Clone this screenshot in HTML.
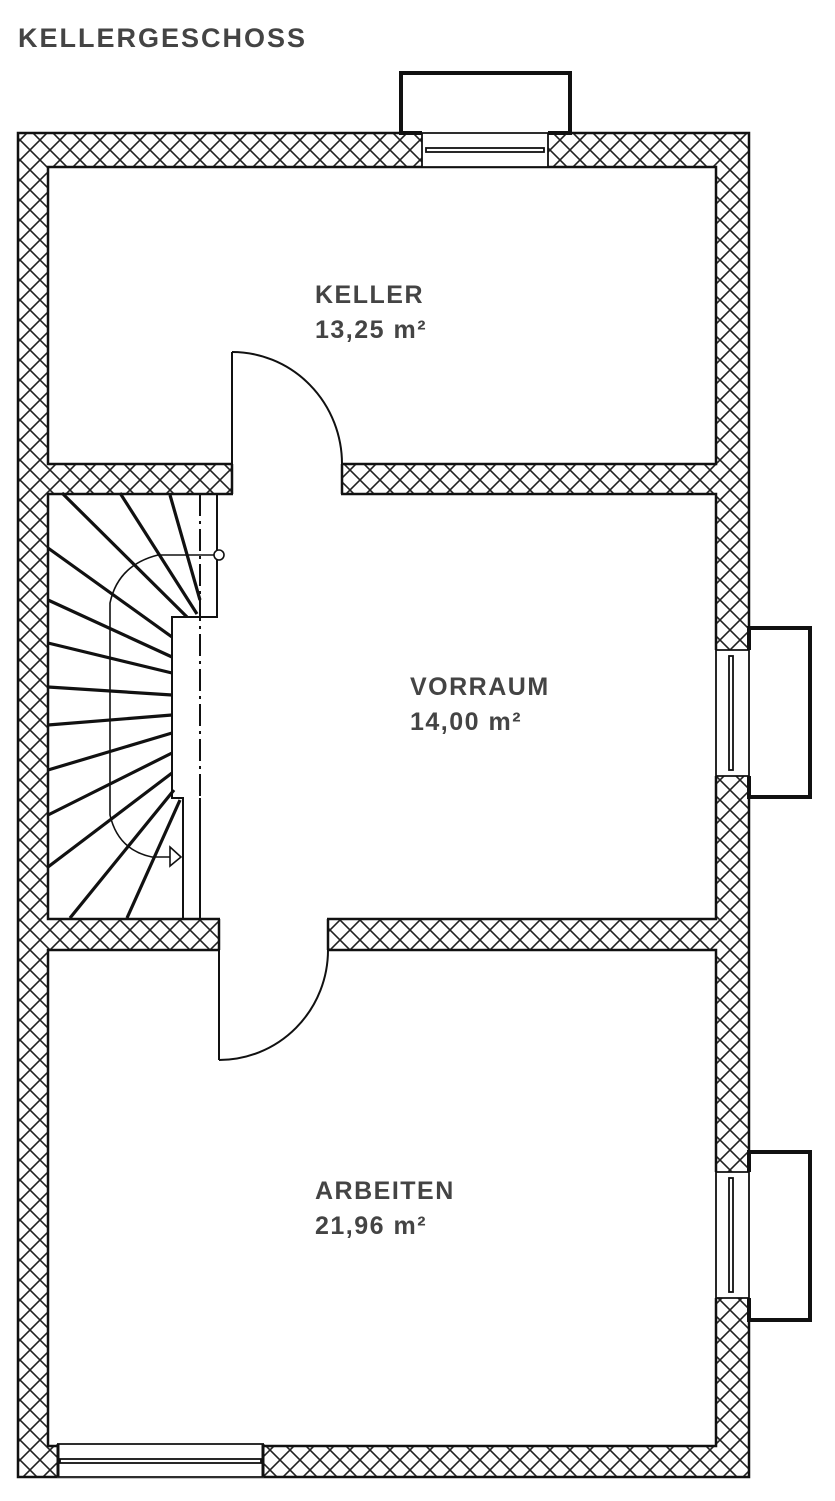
<!DOCTYPE html>
<html><head><meta charset="utf-8"><style>
html,body{margin:0;padding:0;background:#fff;}
svg{display:block;}
text{font-family:"Liberation Sans",sans-serif;font-weight:bold;fill:#444;}
</style></head><body>
<svg width="835" height="1501" viewBox="0 0 835 1501" xmlns="http://www.w3.org/2000/svg">
<defs>
<pattern id="h" width="20" height="20" patternUnits="userSpaceOnUse">
<rect width="20" height="20" fill="#fff"/>
<path d="M0,0L20,20M20,0L0,20" stroke="#222" stroke-width="1.6"/>
</pattern>
</defs>
<text x="18" y="47" font-size="27" letter-spacing="2">KELLERGESCHOSS</text>

<rect x="18" y="133" width="731" height="1344" fill="url(#h)" stroke="#111" stroke-width="2.5"/>
<g fill="#fff" stroke="#111" stroke-width="2.5">
<rect x="48" y="167" width="668" height="297"/>
<rect x="48" y="494" width="668" height="425"/>
<rect x="48" y="950" width="668" height="496"/>
</g>
<rect x="233" y="462" width="108" height="34" fill="#fff"/>
<rect x="220" y="917" width="107" height="35" fill="#fff"/>
<g stroke="#111" stroke-width="2.5" fill="none">
<line x1="232" y1="464" x2="232" y2="494"/>
<line x1="342" y1="464" x2="342" y2="494"/>
<line x1="219" y1="919" x2="219" y2="950"/>
<line x1="328" y1="919" x2="328" y2="950"/>
<line x1="232" y1="352" x2="232" y2="464" stroke-width="2"/>
<path d="M232,352 A110,112 0 0 1 342,464" stroke-width="2"/>
<line x1="219" y1="950" x2="219" y2="1060" stroke-width="2"/>
<path d="M219,1060 A109,110 0 0 0 328,950" stroke-width="2"/>
</g>

<rect x="401" y="73" width="169" height="60" fill="#fff" stroke="#111" stroke-width="4"/>
<rect x="422" y="131" width="126" height="36" fill="#fff"/>
<g stroke="#111" stroke-width="1.8" fill="none">
<line x1="422" y1="133" x2="422" y2="167"/><line x1="548" y1="133" x2="548" y2="167"/>
<line x1="422" y1="133" x2="548" y2="133"/><line x1="422" y1="167" x2="548" y2="167"/>
<rect x="426" y="148" width="118" height="4"/>
</g>

<g>
<rect x="749" y="628" width="61" height="169" fill="#fff" stroke="#111" stroke-width="4"/>
<rect x="714" y="650" width="37" height="126" fill="#fff"/>
<g stroke="#111" stroke-width="1.8" fill="none">
<line x1="716" y1="650" x2="749" y2="650"/><line x1="716" y1="776" x2="749" y2="776"/>
<line x1="716" y1="650" x2="716" y2="776"/><line x1="749" y1="650" x2="749" y2="776"/>
<rect x="729" y="656" width="4" height="114"/>
</g>
<rect x="749" y="1152" width="61" height="168" fill="#fff" stroke="#111" stroke-width="4"/>
<rect x="714" y="1172" width="37" height="126" fill="#fff"/>
<g stroke="#111" stroke-width="1.8" fill="none">
<line x1="716" y1="1172" x2="749" y2="1172"/><line x1="716" y1="1298" x2="749" y2="1298"/>
<line x1="716" y1="1172" x2="716" y2="1298"/><line x1="749" y1="1172" x2="749" y2="1298"/>
<rect x="729" y="1178" width="4" height="114"/>
</g>
</g>

<rect x="57" y="1444" width="207" height="34" fill="#fff"/>
<g stroke="#111" stroke-width="1.8" fill="none">
<line x1="57" y1="1444" x2="264" y2="1444"/><line x1="57" y1="1477" x2="264" y2="1477"/>
<line x1="58" y1="1444" x2="58" y2="1477" stroke-width="3"/><line x1="263" y1="1444" x2="263" y2="1477" stroke-width="3"/>
<rect x="60" y="1459" width="201" height="4"/>
</g>

<g stroke="#111" fill="none">
<polyline points="200,494 217,494 217,617 172,617 172,798 183,798 183,919" stroke-width="2"/>
<line x1="200" y1="494" x2="200" y2="798" stroke-width="2" stroke-dasharray="22,5,3,5"/>
<line x1="200" y1="798" x2="200" y2="919" stroke-width="2"/>
<g stroke-width="3.2">
<line x1="62" y1="493" x2="187" y2="617"/>
<line x1="120" y1="493" x2="197" y2="614"/>
<line x1="170" y1="495" x2="200" y2="600"/>
<line x1="48" y1="548" x2="172" y2="637"/>
<line x1="48" y1="600" x2="172" y2="657"/>
<line x1="48" y1="643" x2="172" y2="673"/>
<line x1="48" y1="687" x2="172" y2="695"/>
<line x1="48" y1="725" x2="172" y2="715"/>
<line x1="48" y1="770" x2="172" y2="733"/>
<line x1="48" y1="815" x2="172" y2="753"/>
<line x1="48" y1="867" x2="172" y2="773"/>
<line x1="70" y1="918" x2="174" y2="790"/>
<line x1="127" y1="918" x2="180" y2="800"/>
</g>
<path d="M218,555 L158,555 Q118,565 110,603 L110,815 Q118,850 152,857 L180,857" stroke-width="1.6"/>
<circle cx="219" cy="555" r="5" stroke-width="1.6" fill="#fff"/>
<path d="M170,847 L181,857 L170,866 Z" stroke-width="1.6" fill="#fff"/>
</g>

<text x="315" y="303" font-size="25" letter-spacing="1.5">KELLER</text>
<text x="315" y="338" font-size="25" letter-spacing="1.5">13,25 m²</text>
<text x="410" y="695" font-size="25" letter-spacing="1.5">VORRAUM</text>
<text x="410" y="730" font-size="25" letter-spacing="1.5">14,00 m²</text>
<text x="315" y="1199" font-size="25" letter-spacing="1.5">ARBEITEN</text>
<text x="315" y="1234" font-size="25" letter-spacing="1.5">21,96 m²</text>
</svg>
</body></html>
